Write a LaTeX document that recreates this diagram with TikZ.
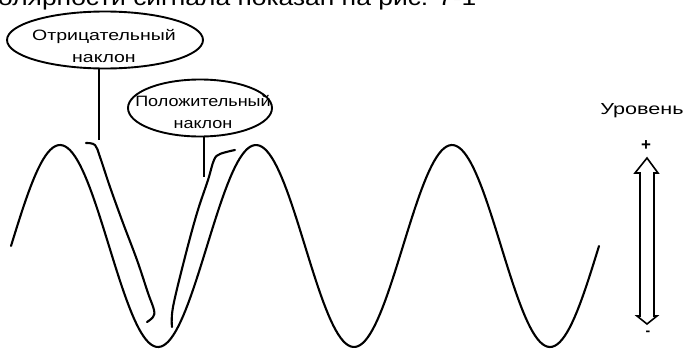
\documentclass[tikz,border=0pt]{standalone}
\usepackage{fontspec}
\setmainfont{Liberation Sans}
\usetikzlibrary{shapes.geometric}
\tikzset{
  ink/.style={line width=2.1pt, line cap=round, line join=round},
  bubble/.style={draw, ellipse, line width=1.9pt, inner sep=0pt},
  bubbletext/.style={inner sep=0pt, align=center, font=\fontsize{15}{22}\selectfont},
  lbl/.style={inner sep=0pt, font=\fontsize{16}{18}\selectfont}
}
\begin{document}
\begin{tikzpicture}[x=1pt,y=-1pt]
\useasboundingbox (0,0) rectangle (687,351);
\clip (0,0) rectangle (687,351);
\fill[white] (0,0) rectangle (687,351);
% cropped caption line at the top
\node[inner sep=0pt, anchor=base west, font=\fontsize{22}{24}\selectfont] (cap) at (-2,5)
  {\scalebox{1.2}[1]{олярности сигнала показан на рис. 7-1}};
% sine wave
\draw[ink] plot[domain=11:599, samples=240] (\x, {246 - 101*sin((\x-11)/196*360)});
% negative slope marker
\draw[ink] plot[smooth, tension=0.6] coordinates {(86,143) (95,145) (100,157) (110,187) (123,223) (137,260) (148,293) (154,310) (153,317) (147,322)};
% positive slope marker
\draw[ink] plot[smooth, tension=0.6] coordinates {(172,327) (173,307) (185,257) (197,213) (208,180) (214,160) (220,154) (235,150)};
% callouts
\node[bubble, minimum width=196, minimum height=57] (neg) at (105,40) {};
\node[bubbletext] (negtxt) at (104,46)
  {\scalebox{1.3}[1]{Отрицательный}\\\scalebox{1.3}[1]{наклон}};
\node[bubble, minimum width=144, minimum height=57] (pos) at (200,108) {};
\node[bubbletext] (postxt) at (203,112)
  {\scalebox{1.2}[1]{Положительный}\\\scalebox{1.2}[1]{наклон}};
\coordinate (negend) at (99,140);
\coordinate (posend) at (204,177);
\draw[line width=2.4pt] (neg.south -| negend) -- (negend);
\draw[line width=2.4pt] (pos.south -| posend) -- (posend);
% level indicator
\node[lbl] (lev) at (642,111) {\scalebox{1.35}[1]{Уровень}};
\node[lbl, font=\bfseries\fontsize{17}{18}\selectfont] (plus) at (646,146) {+};
\node[lbl, font=\bfseries\fontsize{14}{16}\selectfont] (minus) at (648,333) {-};
\draw[line width=1.6pt, line join=miter]
  (647,158) -- (658,173) -- (654,173) -- (654,316) -- (657,316) -- (647,324)
  -- (637,316) -- (640,316) -- (640,173) -- (635,173) -- cycle;
\end{tikzpicture}
\end{document}
